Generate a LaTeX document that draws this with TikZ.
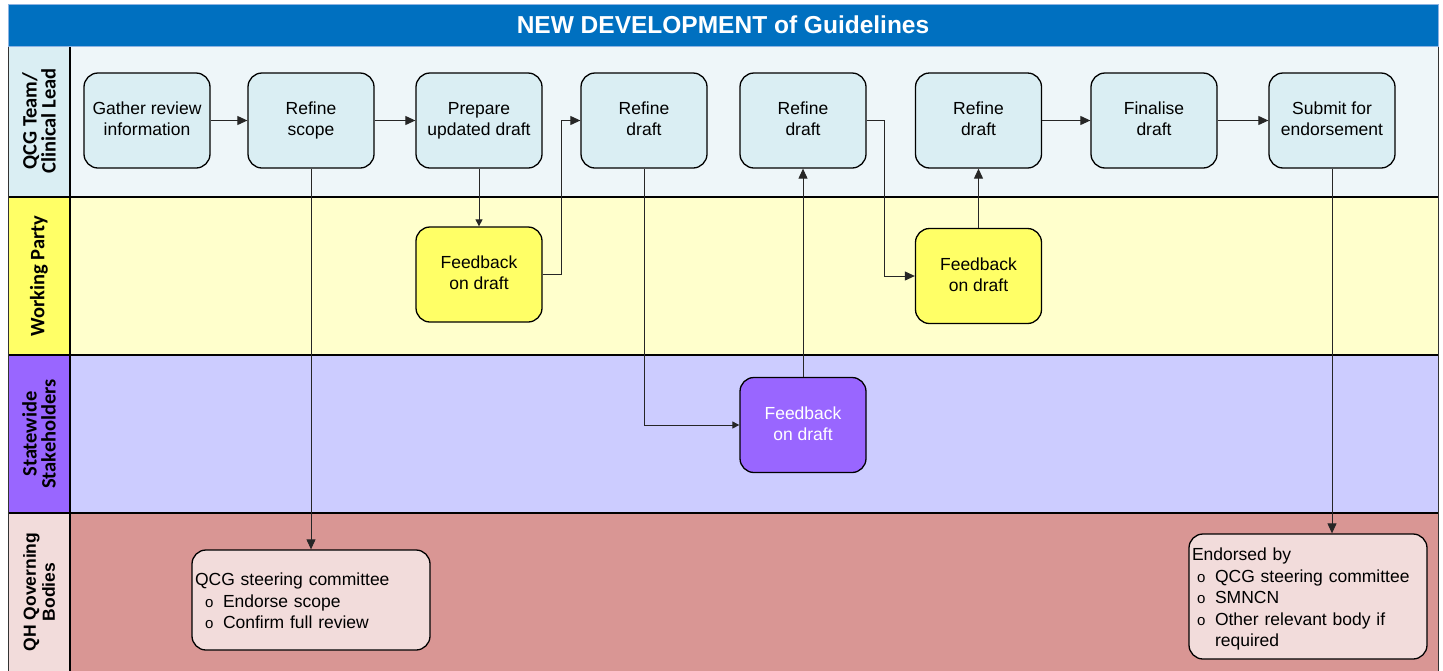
\documentclass[tikz,border=0pt]{standalone}
\usepackage{fontspec}
\setmainfont{Liberation Sans}
\newfontfamily\lanefont{Carlito}
\usetikzlibrary{arrows.meta,positioning}

\definecolor{titleblue}{HTML}{0070C0}
\definecolor{titleedge}{HTML}{8DB3E2}
\definecolor{qcglbl}{HTML}{DAEEF3}
\definecolor{qcgbody}{HTML}{EEF6F9}
\definecolor{qcgnode}{HTML}{DAEEF3}
\definecolor{wplbl}{HTML}{FFFF66}
\definecolor{wpbody}{HTML}{FFFFCC}
\definecolor{swlbl}{HTML}{9966FF}
\definecolor{swbody}{HTML}{CCCCFF}
\definecolor{govlbl}{HTML}{F2DCDB}
\definecolor{govbody}{HTML}{D99694}

% one bullet line of the governing-body boxes
\newcommand\govitem[3]{\hspace*{#1}\makebox[#2][l]{\fontsize{15}{15}\selectfont o}#3}
% strut that keeps every box text on the same baselines
\newcommand\taskstrut{\rule[-3.3pt]{0pt}{21pt}}

\begin{document}
\begin{tikzpicture}[
  x=1pt,y=-1pt,
  font=\fontsize{17.5}{21}\selectfont,
  >={Triangle[length=10pt,width=9pt]},
  task/.style={draw,rounded corners=14pt,line width=1.3pt,minimum width=126pt,
               minimum height=95pt,align=center,fill=qcgnode,inner sep=2pt,
               execute at begin node=\taskstrut,execute at end node=\taskstrut},
  wptask/.style={task,fill=wplbl},
  swtask/.style={task,fill=swlbl,text=white},
  govtask/.style={task,fill=govlbl,align=left,text width=232pt,inner sep=3pt,
                  minimum width=238pt,font=\fontsize{17.5}{21.5}\selectfont},
  lanelbl/.style={rotate=90,align=center,inner sep=0pt,
                  font=\lanefont\bfseries\fontsize{20.5}{19}\selectfont},
  titlebar/.style={fill=titleblue,draw=titleedge,line width=0.6pt,text=white,
                   minimum width=1430pt,minimum height=42pt,
                   font=\bfseries\fontsize{24.5}{26}\selectfont},
  sep/.style={draw=black,line width=2pt},
  flow/.style={->,line width=1pt,draw=black!85},
]
\useasboundingbox (0,0) rectangle (1443,670);

% ---- lane backgrounds ----
\fill[qcglbl]  (8,46)  rectangle (70,197);
\fill[qcgbody] (70,46) rectangle (1438,197);
\fill[wplbl]   (8,197) rectangle (70,355);
\fill[wpbody]  (70,197) rectangle (1438,355);
\fill[swlbl]   (8,355) rectangle (70,513);
\fill[swbody]  (70,355) rectangle (1438,513);
\fill[govlbl]  (8,513) rectangle (70,672);
\fill[govbody] (70,513) rectangle (1438,672);

% lane borders
\draw[sep,line width=1.3pt] (8,197) -- (1438,197);
\draw[sep] (8,355) -- (1438,355);
\draw[sep] (8,513) -- (1438,513);
\draw[sep] (70,46) -- (70,672);
\draw[draw=black!80,line width=1pt] (8,46) -- (8,672);
\draw[draw=black!80,line width=1pt] (1438,46) -- (1438,672);

% ---- title ----
\node[titlebar] (title) at (723,25) {NEW DEVELOPMENT of Guidelines};

% ---- lane labels ----
\node[lanelbl] (lblqcg) at (39,121) {QCG Team/\\Clinical Lead};
\node[lanelbl] (lblwp)  at (39,276) {Working Party};
\node[lanelbl] (lblsw)  at (39,434) {Statewide\\Stakeholders};
\node[lanelbl,font=\bfseries\fontsize{17.5}{19}\selectfont] (lblgov) at (39,592)
     {QH Qoverning\\Bodies};

% ---- QCG team / clinical lead ----
\node[task] (gather) at (147,120.5) {Gather review\\information};
\node[task] (scope)  at (311,120.5) {Refine\\scope};
\node[task] (prep)   at (479,120.5) {Prepare\\updated draft};
\node[task] (refa)   at (644,120.5) {Refine\\draft};
\node[task] (refb)   at (803,120.5) {Refine\\draft};
\node[task] (refc)   at (978.5,120.5) {Refine\\draft};
\node[task] (final)  at (1154,120.5) {Finalise\\draft};
\node[task] (submit) at (1332,120.5) {Submit for\\endorsement};

% ---- working party ----
\node[wptask] (wpfba) at (479,274.5) {Feedback\\on draft};
\node[wptask] (wpfbb) at (978.5,276) {Feedback\\on draft};

% ---- statewide stakeholders ----
\node[swtask] (swfb) at (803,425) {Feedback\\on draft};

% ---- governing bodies ----
\node[govtask,minimum height=100pt] (steer) at (311,600)
     {QCG steering committee\\
      \govitem{10pt}{18pt}{Endorse scope}\\
      \govitem{10pt}{18pt}{Confirm full review}};
\node[govtask,minimum height=125pt] (endorse) at (1308,596.5)
     {Endorsed by\\
      \govitem{5pt}{18pt}{QCG steering committee}\\
      \govitem{5pt}{18pt}{SMNCN}\\
      \govitem{5pt}{18pt}{Other relevant body if}\\
      \hspace*{23pt}required};

% ---- flow ----
\draw[flow] (gather) -- (scope);
\draw[flow] (scope) -- (prep);
\draw[flow] (scope.south) -- (steer.north);
\draw[flow,>={Triangle[length=7pt,width=7pt]}] (prep.south) -- (wpfba.north);
\draw[flow] (wpfba.east) -- ++(19,0) |- (refa.west);
\draw[flow,>={Triangle[length=7pt,width=7pt]}] (refa.south) |- (swfb.west);
\draw[flow] (swfb.north) -- (refb.south);
\draw[flow] (refb.east) -- ++(18,0) |- (wpfbb.west);
\draw[flow] (wpfbb.north) -- (refc.south);
\draw[flow] (refc) -- (final);
\draw[flow] (final) -- (submit);
\draw[flow] (submit.south) -- (submit.south |- endorse.north);

\end{tikzpicture}
\end{document}
